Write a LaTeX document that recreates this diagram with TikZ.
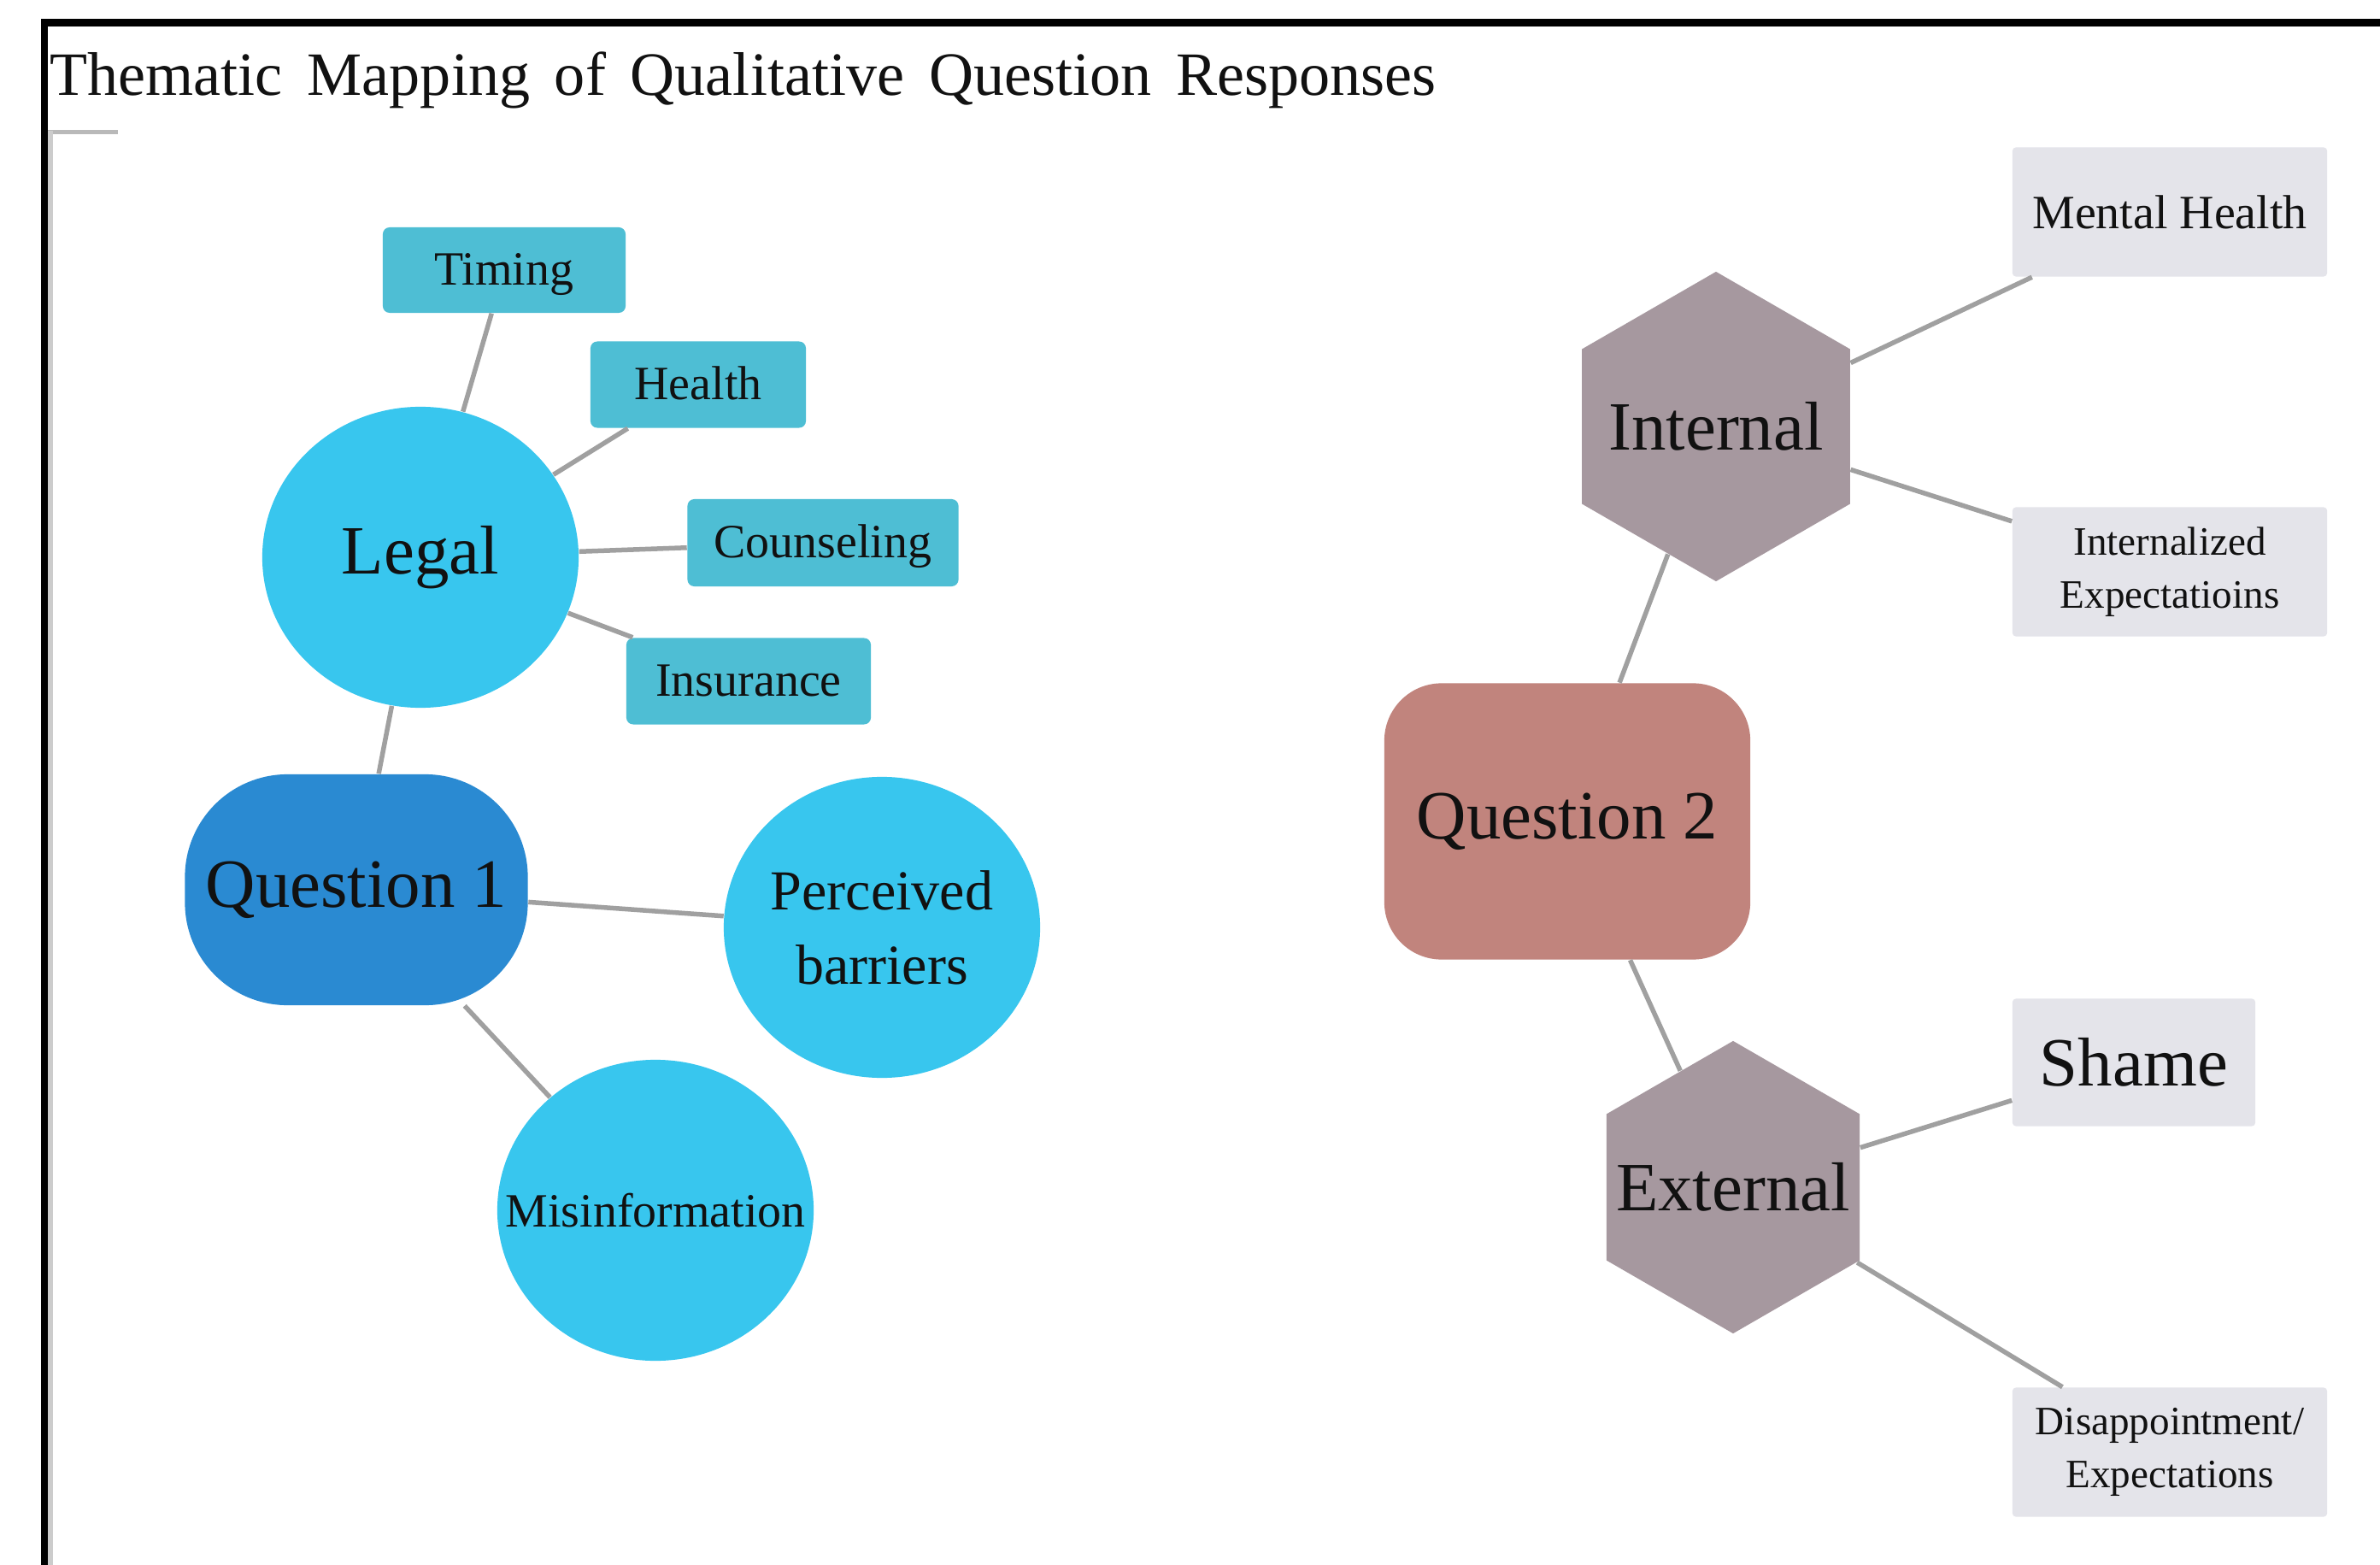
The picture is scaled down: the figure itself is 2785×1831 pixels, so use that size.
\documentclass[tikz,border=0pt]{standalone}
\usepackage{fontspec}
\setmainfont{Liberation Serif}
\newfontfamily\titlefont[WordSpace=1.6]{Liberation Serif}
\usetikzlibrary{shapes.geometric}
\definecolor{circ}{RGB}{56,198,238}
\definecolor{tealbox}{RGB}{78,190,212}
\definecolor{qone}{RGB}{42,138,210}
\definecolor{qtwo}{RGB}{193,132,125}
\definecolor{hexc}{RGB}{166,152,159}
\definecolor{graybox}{RGB}{228,228,234}
\definecolor{lineg}{RGB}{160,160,160}
\definecolor{txt}{RGB}{17,17,17}
\tikzset{
  conn/.style={draw=lineg, line width=0.055cm},
  bigfont/.style={font=\fontsize{23}{27}\selectfont},
  medfont/.style={font=\fontsize{15.9}{19}\selectfont},
  bigc/.style={ellipse, fill=circ, inner sep=0pt, minimum width=3.7cm, minimum height=3.52cm, text=txt},
  tbox/.style={rectangle, rounded corners=0.08cm, fill=tealbox, inner sep=0pt, text=txt, medfont, text height=10pt, text depth=0pt},
  gbox/.style={rectangle, rounded corners=0.04cm, fill=graybox, inner sep=0pt, text=txt, minimum width=3.68cm, minimum height=1.51cm, align=center},
  hexa/.style={regular polygon, regular polygon sides=6, shape border rotate=30, fill=hexc, inner sep=0pt},
}
\begin{document}
\begin{tikzpicture}[x=0.01cm,y=-0.01cm]
\useasboundingbox (0,0) rectangle (2785,1831);
\fill[white] (0,0) rectangle (2785,1831);
% frame
\draw[black, line width=0.085cm] (52,1831) -- (52,26.5) -- (2785,26.5);
\draw[gray!55, line width=0.05cm] (56,155) -- (138,155);
\draw[gray!40, line width=0.06cm] (59,153) -- (59,1831);
% title
\node[anchor=base west, inner sep=0pt, text=txt] (title) at (58,112) {\titlefont\fontsize{20.5}{24}\selectfont Thematic Mapping of Qualitative Question Responses};
% left cluster
\node[bigc, bigfont] (legal) at (492,652) {Legal};
\node[tbox, minimum width=2.84cm, minimum height=1.00cm] (timing) at (590,316) {Timing};
\node[tbox, minimum width=2.52cm, minimum height=1.01cm] (health) at (817,450) {Health};
\node[tbox, minimum width=3.17cm, minimum height=1.02cm] (couns) at (963,635) {Counseling};
\node[tbox, minimum width=2.86cm, minimum height=1.01cm] (insur) at (876,797) {Insurance};
\node[rectangle, rounded corners=1.2cm, fill=qone, inner sep=0pt, text=txt, bigfont, minimum width=4.01cm, minimum height=2.70cm] (q1) at (417,1041) {Question 1};
\node[bigc, align=center, font=\fontsize{18.8}{24.75}\selectfont] (perc) at (1032,1085) {Perceived\\barriers};
\node[bigc, label={[medfont, text=txt, inner sep=0pt]center:Misinformation}] (misinf) at (767,1416) {};
% right cluster
\node[rectangle, rounded corners=0.67cm, fill=qtwo, inner sep=0pt, text=txt, bigfont, minimum width=4.28cm, minimum height=3.23cm] (q2) at (1834,961) {Question 2};
\node[hexa, minimum size=3.62cm, label={[bigfont, text=txt, inner sep=0pt]center:Internal}] (internal) at (2008,499) {};
\node[hexa, minimum size=3.42cm, label={[bigfont, text=txt, inner sep=0pt]center:External}] (external) at (2028,1389) {};
\node[gbox, medfont] (mental) at (2539,248) {Mental Health};
\node[gbox, font=\fontsize{13.4}{17.6}\selectfont] (intexp) at (2539,669) {Internalized\\Expectatioins};
\node[gbox, bigfont, minimum width=2.84cm, minimum height=1.49cm] (shame) at (2497,1243) {Shame};
\node[gbox, font=\fontsize{13.4}{17.6}\selectfont] (disap) at (2539,1699) {Disappointment/\\Expectations};
% connectors
\draw[conn] (legal) -- (timing);
\draw[conn] (legal) -- (health);
\draw[conn] (legal) -- (couns);
\draw[conn] (legal) -- (insur);
\draw[conn] (legal) -- (q1);
\draw[conn] (q1) -- (perc);
\draw[conn] (q1) -- (misinf);
\draw[conn] (q2) -- (internal);
\draw[conn] (q2) -- (external);
\draw[conn] (internal) -- (mental);
\draw[conn] (internal) -- (intexp);
\draw[conn] (external) -- (shame);
\draw[conn] (external) -- (disap);
\end{tikzpicture}
\end{document}
